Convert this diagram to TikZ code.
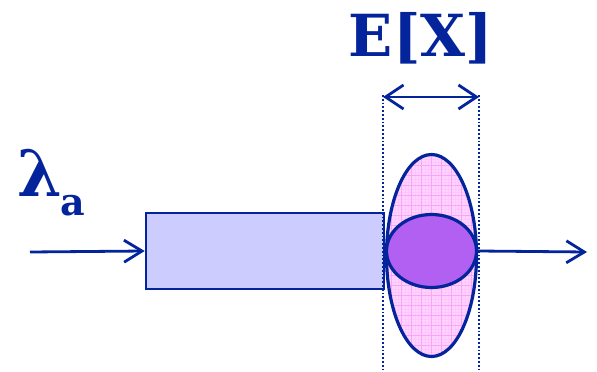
\documentclass[tikz,border=0pt]{standalone}
\usepackage{fontspec}
\setmainfont{DejaVu Serif}
\usetikzlibrary{shapes.geometric,arrows.meta}

\definecolor{navy}{RGB}{4,36,156}
\definecolor{queuefill}{RGB}{204,204,255}
\definecolor{pinkfill}{RGB}{255,210,255}
\definecolor{pinkgrid}{RGB}{246,166,244}
\definecolor{pinkfine}{RGB}{253,198,253}
\definecolor{busyfill}{RGB}{178,96,242}

\tikzset{
  flow/.style={draw=navy, line width=2.8pt,
    -{Straight Barb[length=18pt,width=22pt,line width=2.8pt]}},
  span/.style={draw=navy, line width=2.8pt,
    {Straight Barb[length=18pt,width=24pt,line width=2.8pt]}-{Straight Barb[length=18pt,width=24pt,line width=2.8pt]}},
  guide/.style={draw=navy, line width=1.8pt, dash pattern=on 1.8pt off 2pt},
  queuebox/.style={rectangle, draw=navy, line width=2.6pt, fill=queuefill,
    minimum width=238pt, minimum height=76pt, inner sep=0pt},
  server/.style={ellipse, draw=navy, line width=3.2pt, fill=pinkfill,
    minimum width=90pt, minimum height=202pt, inner sep=0pt,
    path picture={
      \draw[pinkfine, line width=0.3pt, step=3.33pt]
        (path picture bounding box.south west) grid (path picture bounding box.north east);
      \draw[pinkgrid, line width=0.6pt, step=10pt]
        (path picture bounding box.south west) grid (path picture bounding box.north east);
    }},
  busy/.style={ellipse, draw=navy, line width=3.2pt, fill=busyfill,
    minimum width=90pt, minimum height=73pt, inner sep=0pt},
  label/.style={text=navy, font=\bfseries, inner sep=0pt}
}

\begin{document}
\begin{tikzpicture}[x=1pt, y=-1pt]
  \useasboundingbox (0,0) rectangle (597,372);

  % waiting line and service station
  \node[queuebox] (queue) at (265,251) {};
  \node[server] (server) at (431.5,255.5) {};
  \node[busy] (inner) at (431.5,251) {};

  % arrival and departure
  \coordinate (arrive) at (30,252);
  \coordinate (depart) at (587,252);
  \draw[flow] (arrive) -- (queue.west);
  \draw[flow] (inner.east) -- (depart);

  % service time span
  \coordinate (gtopL) at (383,95);
  \coordinate (gbotL) at (383,372);
  \coordinate (gtopR) at (479,95);
  \coordinate (gbotR) at (479,372);
  \draw[guide] (gtopL) -- (gbotL);
  \draw[guide] (gtopR) -- (gbotR);
  \coordinate (spanL) at (383,97);
  \coordinate (spanR) at (479,97);
  \draw[span] (spanL) -- (spanR);

  % labels
  \node[label, font=\bfseries\fontsize{58}{58}\selectfont, anchor=base] (ex) at (421,56) {E[X]};
  \node[label, anchor=base west] (rate) at (17,196)
    {\fontsize{64}{64}\selectfont λ\kern-2pt\raisebox{-19pt}{\fontsize{38}{38}\selectfont a}};
\end{tikzpicture}
\end{document}
